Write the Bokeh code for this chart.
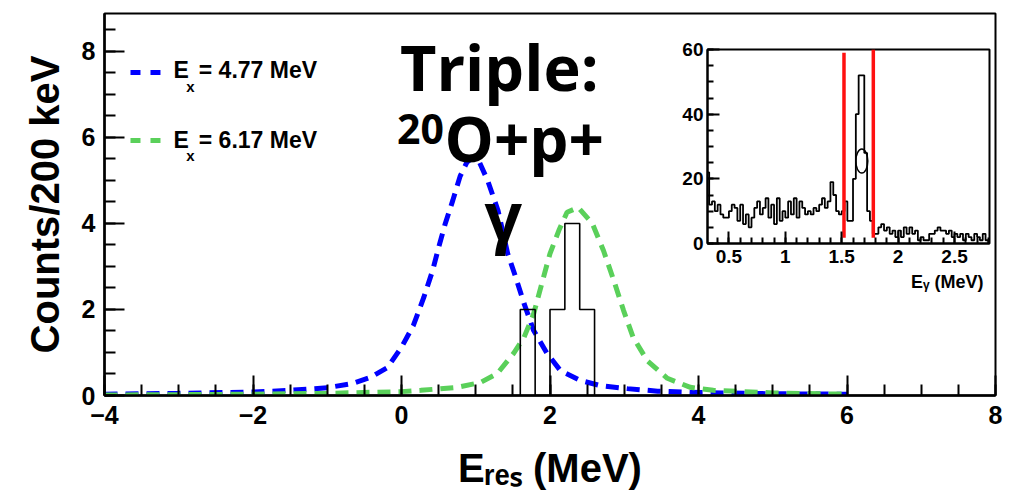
from bokeh.plotting import figure
from bokeh.models import FixedTicker, Label, Range1d, Title
from bokeh.layouts import column
from bokeh.embed import file_html
from bokeh.resources import INLINE

# ---------------- data ----------------
blue_e = [-4, -3, -2, -1.5, -1, -0.66, -0.42, -0.19, 0.0, 0.16, 0.3, 0.42, 0.5, 0.59, 0.69,
          0.79, 0.88, 0.96, 1.05, 1.16, 1.3, 1.43, 1.54, 1.65, 1.78, 1.96, 2.14, 2.41, 2.68,
          3.04, 3.45, 4.03, 5.0, 6.0]
blue_y = [0.03, 0.05, 0.08, 0.12, 0.18, 0.28, 0.42, 0.65, 1.12, 1.63, 2.28, 2.91, 3.44, 4.0, 4.53,
          5.1, 5.42, 5.53, 5.42, 5.0, 4.3, 3.3, 2.74, 2.14, 1.51, 0.98, 0.58, 0.35, 0.23,
          0.16, 0.1, 0.07, 0.04, 0.03]
green_e = [-4, -2, -1, 0, 0.26, 0.75, 1.06, 1.29, 1.51, 1.65, 1.78, 1.9, 2.0, 2.12, 2.23, 2.38,
           2.57, 2.72, 2.86, 2.99, 3.12, 3.31, 3.58, 3.89, 4.2, 5.0, 6.0]
green_y = [0.01, 0.03, 0.05, 0.09, 0.12, 0.19, 0.3, 0.51, 0.98, 1.35, 1.9, 2.67, 3.3, 3.84, 4.26, 4.37,
           4.0, 3.37, 2.67, 1.98, 1.35, 0.81, 0.4, 0.19, 0.12, 0.06, 0.03]

hist_lo = [1.6, 1.8, 2.0, 2.2, 2.4]
hist_counts = [2, 0, 2, 4, 2]
hist_width = 0.2

x_ticks = [-4, -2, 0, 2, 4, 6, 8]
y_ticks = [0, 2, 4, 6, 8]

legend_labels = ["= 4.77 MeV", "= 6.17 MeV"]

inset_start = 0.3
inset_width = 0.025
inset_counts = [22, 12, 13, 10, 12, 9, 8, 8,
                10, 12, 11, 7, 12, 6, 9, 5,
                8, 11, 13, 9, 11, 14, 8, 12,
                6, 14, 7, 10, 8, 13, 9, 14,
                8, 13, 11, 9, 10, 9, 11, 10,
                12, 14, 11, 13, 19, 15, 10, 9,
                10, 13, 7, 7, 20, 40, 52, 52,
                28, 10, 7, 3, 3, 5, 6, 4,
                5, 3, 4, 2, 4, 2, 5, 3,
                5, 3, 4, 1, 2, 1, 1, 3,
                3, 4, 5, 4, 4, 3, 4, 2,
                3, 2, 3, 1, 3, 2, 1, 3,
                2, 1, 3, 1]
gate_lines = [1.52, 1.78]
gate_tops = [59, 60]
gate_bottom = 1.8
marker_e = [1.678]
marker_y = [25.5]
inset_x_ticks = [0.5, 1, 1.5, 2, 2.5]
inset_x_labels = ["0.5", "1", "1.5", "2", "2.5"]
inset_y_ticks = [0, 20, 40, 60]

ROOT_FONT = "Liberation Sans"
BIG_FONT = "Open Sans"


def step_xy(lo_edges, width, counts):
    xs = [lo_edges[0]]
    ys = [0]
    for lo, c in zip(lo_edges, counts):
        xs += [lo, lo + width]
        ys += [c, c]
    xs.append(lo_edges[-1] + width)
    ys.append(0)
    return xs, ys


# ---------------- main plot ----------------
p = figure(width=1014, height=499, x_range=Range1d(-4, 8), y_range=Range1d(0, 8.88),
           output_backend="svg", toolbar_location=None,
           min_border_left=104, min_border_right=19, min_border_top=13, min_border_bottom=104)
p.xgrid.visible = False
p.ygrid.visible = False
p.outline_line_color = "black"
p.outline_line_width = 2
p.background_fill_color = "white"
p.border_fill_color = "white"

minor_x = [-4 + 0.5 * i for i in range(25)]
minor_y = [0.5 * i for i in range(18)]
p.xaxis.ticker = FixedTicker(ticks=x_ticks, minor_ticks=minor_x)
p.yaxis.ticker = FixedTicker(ticks=y_ticks, minor_ticks=minor_y)
for ax in (p.xaxis, p.yaxis):
    ax.axis_line_width = 2.5
    ax.axis_line_color = "black"
    ax.major_tick_in = 20
    ax.major_tick_out = 0
    ax.minor_tick_in = 11
    ax.minor_tick_out = 0
    ax.major_tick_line_width = 2
    ax.minor_tick_line_width = 2
    ax.major_label_text_font = ROOT_FONT
    ax.major_label_text_font_style = "bold"
    ax.major_label_text_font_size = "25px"
    ax.major_label_text_color = "black"
    ax.axis_label_text_color = "black"
    ax.axis_label_text_font = ROOT_FONT
    ax.axis_label_text_font_style = "bold"
p.xaxis.major_label_standoff = 10
p.yaxis.major_label_standoff = 9
p.yaxis.axis_label = "Counts/200 keV"
p.yaxis.axis_label_text_font_size = "40px"
p.yaxis.axis_label_standoff = 12
p.xaxis.axis_label = "E\u1d63\u2091\u209b (MeV)"
p.xaxis.axis_label_text_font_size = "40px"
p.xaxis.axis_label_standoff = 19

# curves
p.line(blue_e, blue_y, line_color="#0000ff", line_width=5, line_dash="13 8")
p.line(green_e, green_y, line_color="#5ad05a", line_width=5, line_dash="13 8")

# histogram
hx, hy = step_xy(hist_lo, hist_width, hist_counts)
p.line(hx, hy, line_color="black", line_width=1.6)

# legend
leg_y = [7.51, 5.93]
leg_text_y = [7.56, 5.95]
leg_col = ["#0000ff", "#5ad05a"]
for yy, ty, col, lab in zip(leg_y, leg_text_y, leg_col, legend_labels):
    p.line([-3.65, -3.246], [yy, yy], line_color=col, line_width=5, line_dash="10 10")
    p.add_layout(Label(x=-3.07, y=ty, text="E", text_font=ROOT_FONT, text_font_size="23px",
                       text_font_style="bold", text_color="black", text_baseline="middle"))
    p.add_layout(Label(x=-2.90, y=ty - 0.38, text="x", text_font=ROOT_FONT, text_font_size="15px",
                       text_font_style="bold", text_color="black", text_baseline="middle"))
    p.add_layout(Label(x=-2.73, y=ty, text=lab, text_font=ROOT_FONT, text_font_size="23px",
                       text_font_style="bold", text_color="black", text_baseline="middle"))

# big annotation
p.add_layout(Label(x=-0.02, y=7.65, text="Triple:", text_font=BIG_FONT, text_font_size="63px",
                   text_font_style="bold", text_color="black", text_baseline="alphabetic"))
p.add_layout(Label(x=-0.06, y=6.19, text="20", text_font=BIG_FONT, text_font_size="41px",
                   text_font_style="bold", text_color="black", text_baseline="alphabetic"))
p.add_layout(Label(x=0.58, y=5.98, text="O+p+", text_font=BIG_FONT, text_font_size="62px",
                   text_font_style="bold", text_color="black", text_baseline="alphabetic"))
p.add_layout(Label(x=1.37, y=4.23, text="γ", text_font=BIG_FONT, text_font_size="66px",
                   text_font_style="bold", text_color="black", text_baseline="middle",
                   text_align="center"))

# ---------------- inset ----------------
ins = figure(width=405, height=264, x_range=Range1d(0.31, 2.81), y_range=Range1d(0, 60),
             output_backend="svg", toolbar_location=None,
             min_border_left=104, min_border_right=19, min_border_top=10, min_border_bottom=60,
             margin=(-460, 0, 0, 603))
ins.xgrid.visible = False
ins.ygrid.visible = False
ins.outline_line_color = "black"
ins.outline_line_width = 2
ins.background_fill_color = "white"
ins.border_fill_alpha = 0
ins.xaxis.ticker = FixedTicker(ticks=inset_x_ticks, minor_ticks=[0.4 + 0.1 * i for i in range(25)])
ins.yaxis.ticker = FixedTicker(ticks=inset_y_ticks, minor_ticks=[5 * i for i in range(13)])
ins.xaxis.major_label_overrides = dict(zip(inset_x_ticks, inset_x_labels))
for ax in (ins.xaxis, ins.yaxis):
    ax.axis_line_width = 2
    ax.major_tick_in = 12
    ax.major_tick_out = 0
    ax.minor_tick_in = 6
    ax.minor_tick_out = 0
    ax.major_tick_line_width = 2
    ax.minor_tick_line_width = 2
    ax.major_label_text_font = ROOT_FONT
    ax.major_label_text_font_style = "bold"
    ax.major_label_text_font_size = "19px"
    ax.major_label_text_color = "black"
ins.xaxis.major_label_standoff = 6
ins.yaxis.major_label_standoff = 4

ilo = [inset_start + inset_width * i for i in range(len(inset_counts))]
ix, iy = step_xy(ilo, inset_width, inset_counts)
ins.line(ix, iy, line_color="black", line_width=1.8)
for g, t in zip(gate_lines, gate_tops):
    ins.line([g, g], [gate_bottom, t], line_color="#ff1010", line_width=3.5)
ins.ellipse(x=marker_e, y=marker_y, width=12, height=24, width_units="screen", height_units="screen",
            fill_color=None, line_color="black", line_width=1.5)

ins.add_layout(Title(text="E\u1d67 (MeV)", align="right", offset=6, standoff=8,
                     text_font=ROOT_FONT, text_font_size="18px", text_font_style="bold",
                     text_color="black"), "below")

layout = column(p, ins, spacing=0)
open("out.html", "w").write(file_html(layout, INLINE))
